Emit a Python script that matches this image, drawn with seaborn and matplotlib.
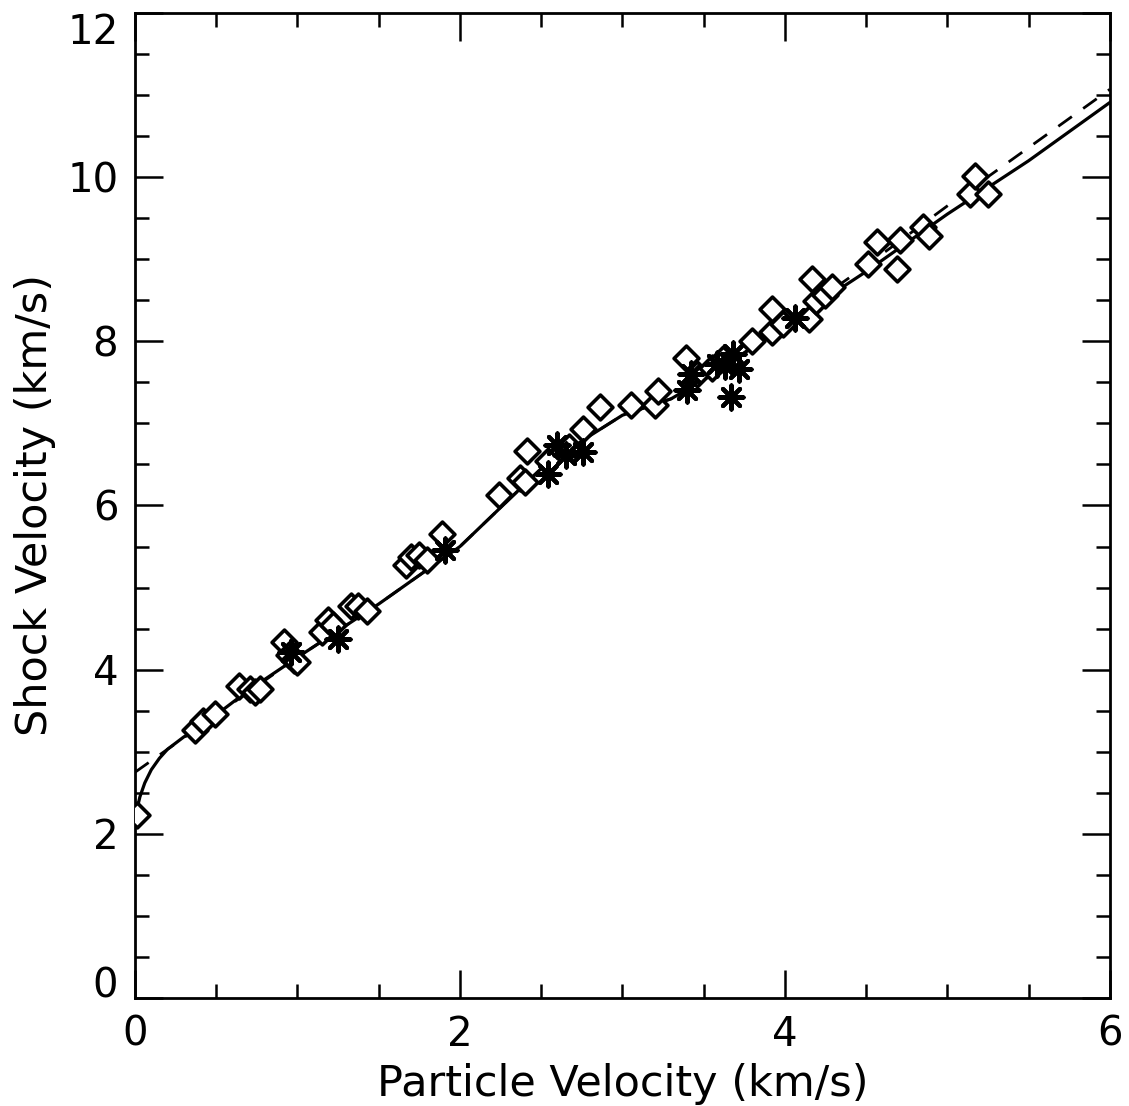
import matplotlib
matplotlib.use("Agg")
import matplotlib.pyplot as plt
import seaborn as sns
from matplotlib.ticker import MultipleLocator

# diamond data points (particle velocity, shock velocity)
diamond_up = [0.01, 0.37, 0.42, 0.49, 0.64, 0.71, 0.74, 0.77, 0.92, 0.95, 0.98, 1.00,
              1.15, 1.19, 1.22, 1.33, 1.37, 1.43, 1.67, 1.70, 1.75, 1.80, 1.89, 2.24,
              2.37, 2.41, 2.40, 2.54, 2.67, 2.76, 2.86, 3.05, 3.20, 3.22, 3.39, 3.46,
              3.55, 3.62, 3.80, 3.92, 3.92, 3.99, 4.15, 4.17, 4.19, 4.25, 4.29, 4.51,
              4.57, 4.69, 4.71, 4.85, 4.89, 5.14, 5.17, 5.25]
diamond_us = [2.23, 3.27, 3.37, 3.46, 3.80, 3.76, 3.73, 3.76, 4.34, 4.18, 4.12, 4.09,
              4.46, 4.61, 4.55, 4.77, 4.77, 4.71, 5.28, 5.37, 5.40, 5.34, 5.65, 6.13,
              6.34, 6.66, 6.29, 6.54, 6.71, 6.93, 7.20, 7.23, 7.23, 7.39, 7.80, 7.60,
              7.68, 7.78, 8.00, 8.11, 8.39, 8.21, 8.27, 8.76, 8.49, 8.57, 8.66, 8.94,
              9.21, 8.88, 9.24, 9.39, 9.28, 9.79, 10.02, 9.79]

# asterisk data points
star_up = [0.96, 1.25, 1.91, 2.54, 2.60, 2.65, 2.76, 3.40, 3.42, 3.58, 3.63, 3.67,
           3.68, 3.72, 4.06]
star_us = [4.22, 4.37, 5.46, 6.38, 6.74, 6.62, 6.65, 7.41, 7.60, 7.72, 7.70, 7.32,
           7.84, 7.66, 8.29]

# solid fit curve
solid_up = [0.0, 0.03, 0.06, 0.1, 0.15, 0.2, 0.3, 0.4, 0.7, 1.0, 1.5, 2.0, 2.5, 2.8,
            3.0, 3.3, 3.6, 4.0, 4.5, 5.0, 5.5, 6.0]
solid_us = [2.2, 2.45, 2.62, 2.78, 2.92, 3.03, 3.18, 3.3, 3.75, 4.15, 4.8, 5.5, 6.45,
            6.85, 7.1, 7.3, 7.65, 8.2, 8.85, 9.55, 10.2, 10.91]

# dashed fit curve
dashed_up = [0.0, 0.25, 0.5, 1.0, 1.5, 2.0, 2.5, 2.8, 3.0, 3.3, 3.6, 4.0, 4.5, 5.0, 5.5, 6.0]
dashed_us = [2.75, 3.1, 3.45, 4.15, 4.8, 5.5, 6.45, 6.85, 7.1, 7.3, 7.65, 8.22, 8.92, 9.65,
             10.36, 11.07]

sns.set_style("ticks")
plt.rcParams['font.family'] = ['DejaVu Sans']
plt.rcParams['text.color'] = 'black'
plt.rcParams['axes.labelcolor'] = 'black'
plt.rcParams['xtick.color'] = 'black'
plt.rcParams['ytick.color'] = 'black'
plt.rcParams['axes.edgecolor'] = 'black'

fig = plt.figure(figsize=(11.29, 11.06), dpi=100)
ax = fig.add_axes([0.1196, 0.0977, 0.8634, 0.8905])

sns.lineplot(x=dashed_up, y=dashed_us, ax=ax, color='black', lw=2.0,
             linestyle=(0, (6, 5)), sort=False, estimator=None)
sns.lineplot(x=solid_up, y=solid_us, ax=ax, color='black', lw=2.3,
             sort=False, estimator=None)
sns.scatterplot(x=diamond_up, y=diamond_us, ax=ax, marker='D', s=160,
                facecolor='white', edgecolor='black', linewidth=2.6, zorder=3)
sns.scatterplot(x=star_up, y=star_us, ax=ax, marker=(8, 2, 0), s=300,
                color='black', linewidth=3.0, zorder=4)

ax.set_xlim(0, 6)
ax.set_ylim(0, 12)
ax.xaxis.set_major_locator(MultipleLocator(2))
ax.xaxis.set_minor_locator(MultipleLocator(0.5))
ax.yaxis.set_major_locator(MultipleLocator(2))
ax.yaxis.set_minor_locator(MultipleLocator(0.5))
ax.tick_params(which='both', direction='in', top=True, right=True,
               labelsize=29, width=1.8, pad=12)
ax.tick_params(which='major', length=20)
ax.tick_params(which='minor', length=10)
for sp in ax.spines.values():
    sp.set_linewidth(2.0)

ax.set_xlabel("Particle Velocity (km/s)", fontsize=31, labelpad=6)
ax.set_ylabel("Shock Velocity (km/s)", fontsize=31, labelpad=8)

# keep the end labels inside the frame height, as in the original
fig.canvas.draw()
for lab in ax.get_yticklabels():
    if lab.get_text() == '12':
        lab.set_va('top')
    elif lab.get_text() == '0':
        lab.set_va('baseline')

fig.savefig("out.png", dpi=100, facecolor='white')
